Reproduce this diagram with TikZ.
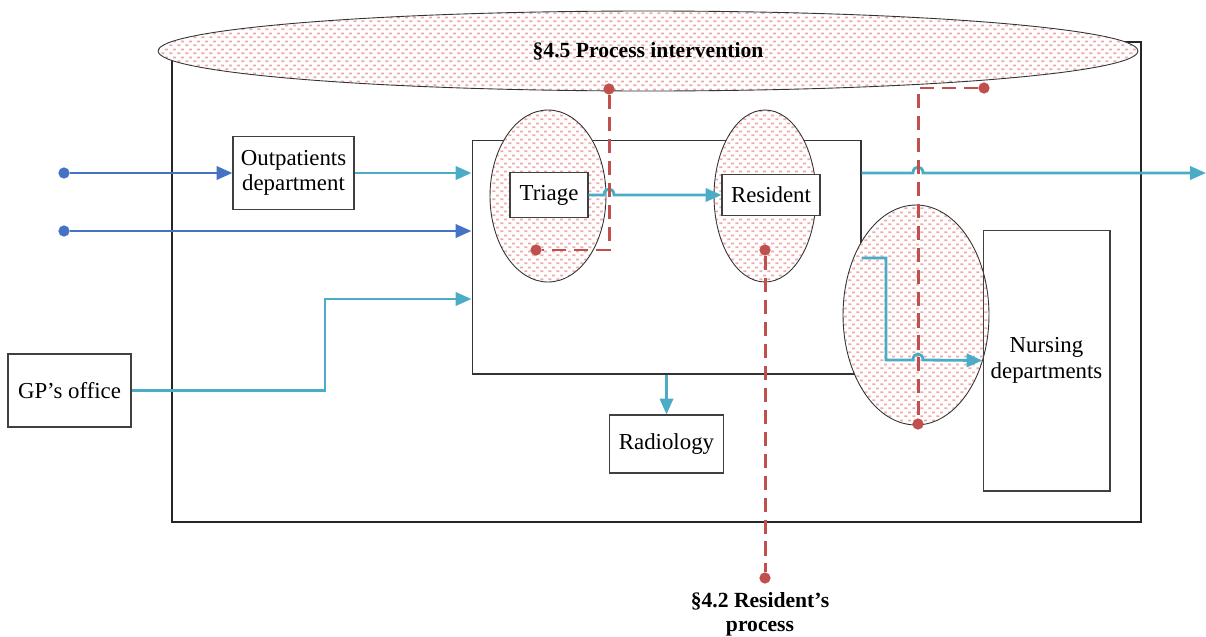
\documentclass[tikz,border=0pt]{standalone}
\usepackage{fontspec}
\setmainfont{Liberation Serif}
\usetikzlibrary{arrows.meta,shapes.geometric,patterns.meta}
\definecolor{flowblue}{RGB}{68,114,196}
\definecolor{flowteal}{RGB}{75,172,198}
\definecolor{linkred}{RGB}{192,80,77}
\definecolor{dashpink}{RGB}{240,168,168}

% small staggered dashes used inside the bubbles
\tikzdeclarepattern{
  name=pinkdashes,
  type=uncolored,
  bounding box={(0pt,0pt) and (4.6pt,4.6pt)},
  tile size={(4.6pt,4.6pt)},
  code={
    \pgfsetlinewidth{1.1pt}
    \pgfpathmoveto{\pgfpoint{0.3pt}{1.15pt}}
    \pgfpathlineto{\pgfpoint{2.1pt}{1.15pt}}
    \pgfpathmoveto{\pgfpoint{2.6pt}{3.45pt}}
    \pgfpathlineto{\pgfpoint{4.4pt}{3.45pt}}
    \pgfusepath{stroke}
  }
}

\begin{document}
\begin{tikzpicture}[x=0.02cm,y=-0.02cm,
  box/.style={draw=black!75,line width=0.6pt,fill=white,align=center,inner sep=0pt,
              font=\fontsize{13}{14.5}\selectfont},
  bubble/.style={ellipse,draw=black!80,line width=0.5pt,inner sep=0pt,
                 preaction={fill=white},pattern=pinkdashes,pattern color=dashpink},
  dot/.style={circle,fill=#1,inner sep=0pt,minimum size=6.4pt},
  inflow/.style={flowblue,line width=1.6pt,-{Triangle[length=9pt,width=7.5pt]}},
  flow/.style={flowteal,line width=1.6pt,-{Triangle[length=9pt,width=7.5pt]}},
  link/.style={linkred,line width=1.7pt,dash pattern=on 8pt off 4.5pt}]
  \useasboundingbox (0,0) rectangle (1206,636);

  % hospital frame and emergency department
  \draw[black!85,line width=0.6pt] (172,42) rectangle (1141,522);
  \node[draw=black!80,line width=0.6pt,minimum width=7.78cm,minimum height=4.68cm] (ed) at (666.5,257) {};

  % bubbles
  \node[bubble,minimum width=19.6cm,minimum height=1.6cm,
        font=\bfseries\fontsize{12.3}{14}\selectfont] (intervention) at (648,51) {§4.5 Process intervention};
  \node[bubble,minimum width=2.32cm,minimum height=3.44cm] (triageell) at (548,196) {};
  \node[bubble,minimum width=2.04cm,minimum height=3.44cm] (residentell) at (765,196) {};
  \node[bubble,minimum width=2.92cm,minimum height=4.4cm] (nursingell) at (916,315) {};

  % departments
  \node[box,minimum width=2.42cm,minimum height=1.46cm] (outpat) at (293.5,173) {Outpatients\\department};
  \node[box,minimum width=2.46cm,minimum height=1.46cm] (gp) at (69.5,390.5) {GP’s office};
  \node[box,minimum width=2.28cm,minimum height=1.16cm] (radiology) at (666.5,444) {Radiology};
  \node[box,minimum width=1.56cm,minimum height=0.9cm] (triage) at (549,195) {Triage};
  \node[box,minimum width=1.96cm,minimum height=0.82cm] (resident) at (771,195) {Resident};
  \node[draw=black!75,line width=0.6pt,align=center,font=\fontsize{13}{14.5}\selectfont,
        minimum width=2.54cm,minimum height=5.22cm] (nursing) at (1046.5,360.5) {Nursing\\departments};

  % incoming patients
  \node[dot=flowblue] (in1) at (64,173) {};
  \node[dot=flowblue] (in2) at (64,231) {};
  \coordinate (exit) at (1206,173);
  \draw[inflow] (in1) -- (outpat.west);
  \draw[inflow] (in2) -- (ed.west |- in2);

  % patient flow
  \draw[flow] (outpat.east) -- (ed.west |- outpat.east);
  \draw[flow] (gp.east) -| (325,299) -- (ed.west |- 325,299);
  \draw[flow] (triage.east) -- (604,195) .. controls (604,187) and (614,187) .. (614,195) -- (resident.west);
  \draw[flow] (ed.east |- exit) -- (913,173) .. controls (913,165) and (923,165) .. (923,173) -- (exit);
  \draw[flow] (ed.east |- 0,258) -- (886,258) -- (886,360) -- (913,360)
    .. controls (913,352) and (923,352) .. (923,360) -- (nursing.west);
  \draw[flow] (ed.south) -- (radiology.north);

  % process links
  \node[dot=linkred] (p1) at (609,89) {};
  \node[dot=linkred] (p2) at (536,250) {};
  \node[dot=linkred] (p3) at (765,250) {};
  \node[dot=linkred] (p4) at (765,578) {};
  \node[dot=linkred] (p5) at (984,88) {};
  \node[dot=linkred] (p6) at (918,424) {};
  \draw[link] (p1) |- (p2);
  \draw[link] (p3) -- (p4);
  \draw[link] (p5) -| (p6);

  \node[font=\bfseries\fontsize{12.3}{14}\selectfont,align=center,anchor=north]
    (resproc) at (760,586) {§4.2 Resident’s\\process};
\end{tikzpicture}
\end{document}
